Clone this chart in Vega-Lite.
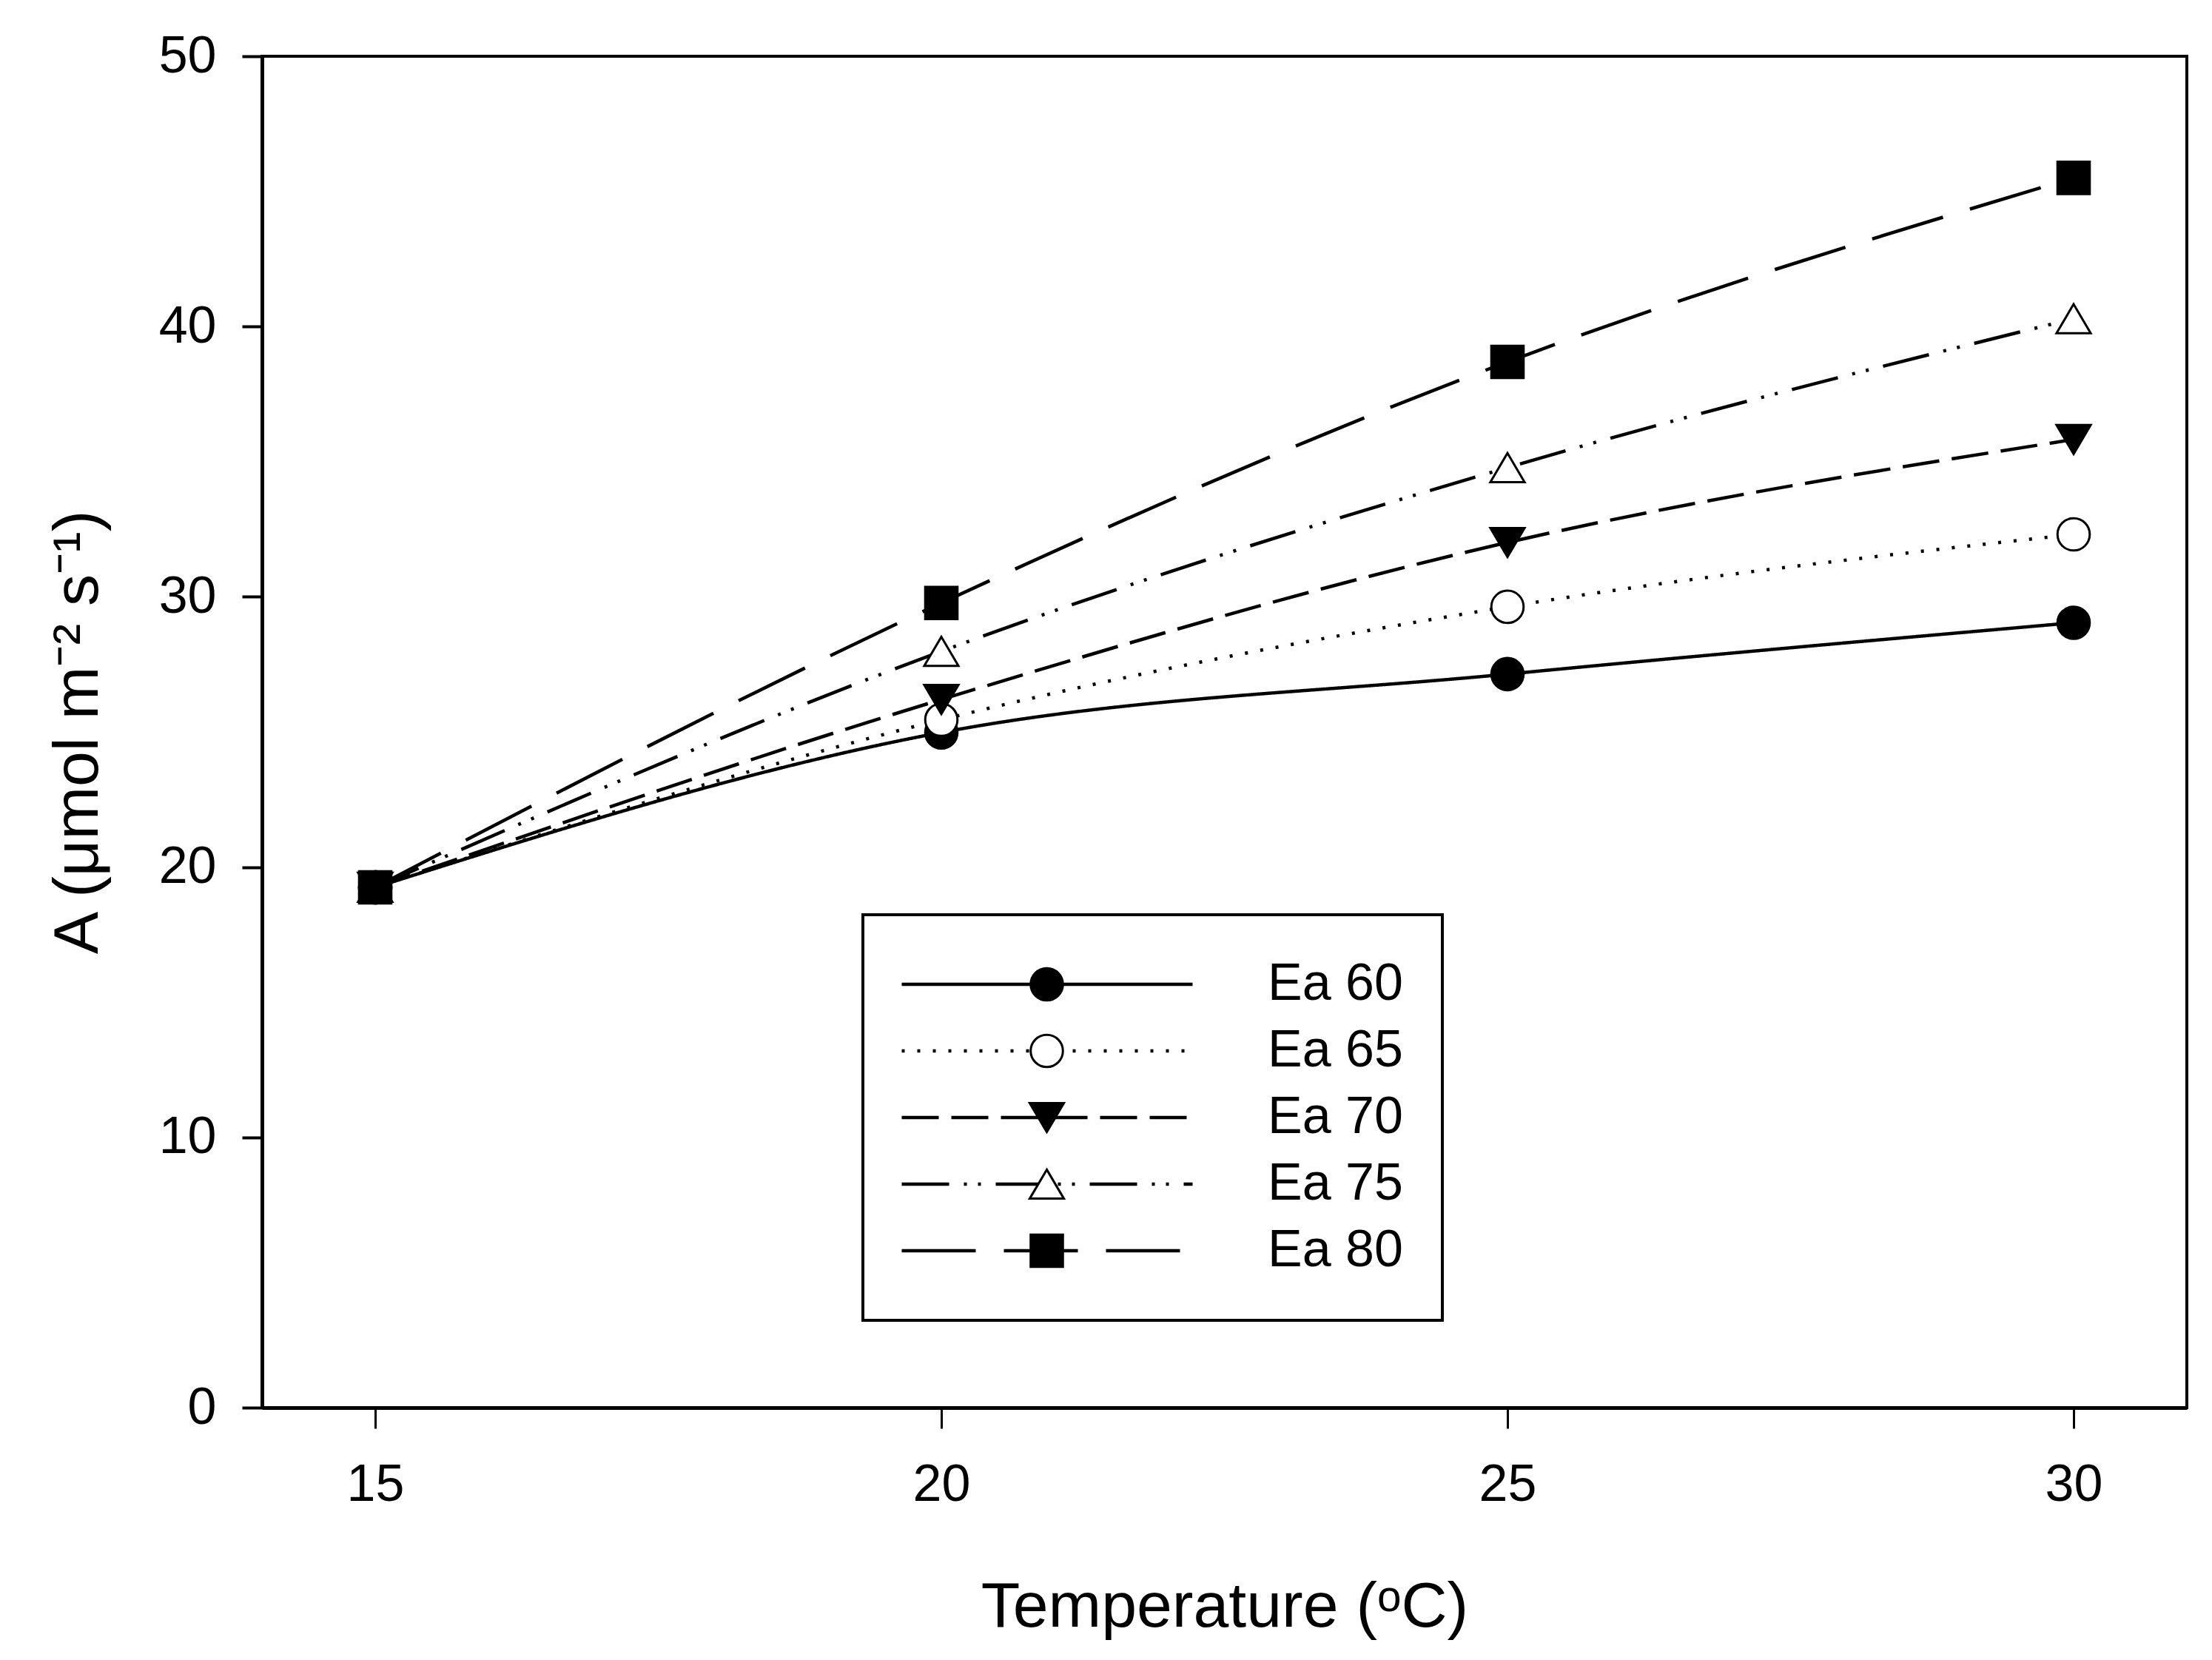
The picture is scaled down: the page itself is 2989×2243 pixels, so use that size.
{
  "$schema": "https://vega.github.io/schema/vega-lite/v6.json",
  "width": 2601,
  "height": 1826,
  "autosize": {"type": "none"},
  "padding": {"left": 354, "top": 76, "right": 34, "bottom": 341},
  "background": "white",
  "config": {
    "font": "Liberation Sans",
    "view": {"stroke": "black", "strokeWidth": 4},
    "axis": {
      "grid": false,
      "domainColor": "black",
      "tickColor": "black",
      "labelColor": "black",
      "titleColor": "black",
      "labelFont": "Liberation Sans",
      "titleFont": "Liberation Sans",
      "titleFontWeight": "normal",
      "labelFlush": false,
      "labelOverlap": false
    },
    "legend": {"labelFont": "Liberation Sans", "labelColor": "black", "labelLimit": 600}
  },
  "data": {
    "values": [
      {"Ea": "Ea 60", "T": 15, "A": 19.25},
      {"Ea": "Ea 60", "T": 20, "A": 24.98},
      {"Ea": "Ea 60", "T": 25, "A": 27.14},
      {"Ea": "Ea 60", "T": 30, "A": 29.04},
      {"Ea": "Ea 65", "T": 15, "A": 19.25},
      {"Ea": "Ea 65", "T": 20, "A": 25.45},
      {"Ea": "Ea 65", "T": 25, "A": 29.63},
      {"Ea": "Ea 65", "T": 30, "A": 32.31},
      {"Ea": "Ea 70", "T": 15, "A": 19.25},
      {"Ea": "Ea 70", "T": 20, "A": 26.2},
      {"Ea": "Ea 70", "T": 25, "A": 32.01},
      {"Ea": "Ea 70", "T": 30, "A": 35.82},
      {"Ea": "Ea 75", "T": 15, "A": 19.25},
      {"Ea": "Ea 75", "T": 20, "A": 27.98},
      {"Ea": "Ea 75", "T": 25, "A": 34.78},
      {"Ea": "Ea 75", "T": 30, "A": 40.29},
      {"Ea": "Ea 80", "T": 15, "A": 19.25},
      {"Ea": "Ea 80", "T": 20, "A": 29.77},
      {"Ea": "Ea 80", "T": 25, "A": 38.69},
      {"Ea": "Ea 80", "T": 30, "A": 45.5}
    ]
  },
  "layer": [
    {
      "mark": {"type": "line", "interpolate": "monotone", "strokeWidth": 4.5, "color": "black"},
      "encoding": {
        "x": {
          "field": "T",
          "type": "quantitative",
          "scale": {"domain": [14, 31], "nice": false, "zero": false},
          "title": "Temperature (ᵒC)",
          "axis": {
            "values": [15, 20, 25, 30],
            "format": "d",
            "tickSize": 28,
            "tickWidth": 3,
            "domainWidth": 5,
            "labelFontSize": 70,
            "labelPadding": 42,
            "titleFontSize": 86,
            "titleY": 295,
            "titleBaseline": "alphabetic"
          }
        },
        "y": {
          "field": "A",
          "type": "quantitative",
          "scale": {"domain": [0, 50], "nice": false},
          "title": "A (μmol m⁻² s⁻¹)",
          "axis": {
            "values": [0, 10, 20, 30, 40, 50],
            "format": "d",
            "tickSize": 27,
            "tickWidth": 4,
            "domainWidth": 5,
            "labelFontSize": 70,
            "labelPadding": 35,
            "titleFontSize": 86,
            "titleX": -223,
            "titleBaseline": "alphabetic"
          }
        },
        "strokeDash": {
          "field": "Ea",
          "type": "nominal",
          "scale": {
            "domain": ["Ea 60", "Ea 65", "Ea 70", "Ea 75", "Ea 80"],
            "range": [[1, 0], [4, 17], [50, 17], [64, 20, 4, 15, 4, 20], [100, 38]]
          },
          "legend": {
            "orient": "none",
            "legendX": 812,
            "legendY": 1160,
            "title": null,
            "padding": 50,
            "strokeColor": "black",
            "symbolType": "stroke",
            "symbolSize": 154449,
            "symbolStrokeWidth": 4.5,
            "symbolStrokeColor": "black",
            "labelExpr": "''",
            "labelFontSize": 70,
            "labelOffset": 285,
            "clipHeight": 88,
            "rowPadding": 2,
            "zindex": 1,
            "encode": {"legend": {"update": {"strokeWidth": {"value": 4}}}}
          }
        }
      }
    },
    {
      "mark": {"type": "point", "filled": true, "size": 1900, "stroke": "black", "strokeWidth": 3, "opacity": 1},
      "encoding": {
        "x": {"field": "T", "type": "quantitative"},
        "y": {"field": "A", "type": "quantitative"},
        "shape": {
          "field": "Ea",
          "type": "nominal",
          "scale": {"range": ["circle", "circle", "M-1.06,-0.9L1.06,-0.9L0,0.9Z", "M0,-0.9L1.06,0.9L-1.06,0.9Z", "square"]},
          "legend": {
            "orient": "none",
            "legendX": 1025.5,
            "legendY": 1210,
            "title": null,
            "padding": 0,
            "symbolSize": 1900,
            "symbolStrokeWidth": 3,
            "symbolStrokeColor": "black",
            "symbolOpacity": 1,
            "labelFontSize": 70,
            "labelOffset": 263.5,
            "clipHeight": 88,
            "rowPadding": 2,
            "zindex": 2,
            "encode": {"symbols": {"update": {"stroke": {"value": "black"}, "strokeWidth": {"value": 3}}}}
          }
        },
        "fill": {
          "field": "Ea",
          "type": "nominal",
          "scale": {"range": ["black", "white", "black", "white", "black"]},
          "legend": {
            "orient": "none",
            "legendX": 1025.5,
            "legendY": 1210,
            "title": null,
            "padding": 0,
            "symbolSize": 1900,
            "symbolStrokeWidth": 3,
            "symbolStrokeColor": "black",
            "symbolOpacity": 1,
            "labelFontSize": 70,
            "labelOffset": 263.5,
            "clipHeight": 88,
            "rowPadding": 2,
            "zindex": 2,
            "encode": {"symbols": {"update": {"stroke": {"value": "black"}, "strokeWidth": {"value": 3}}}}
          }
        }
      }
    }
  ]
}
